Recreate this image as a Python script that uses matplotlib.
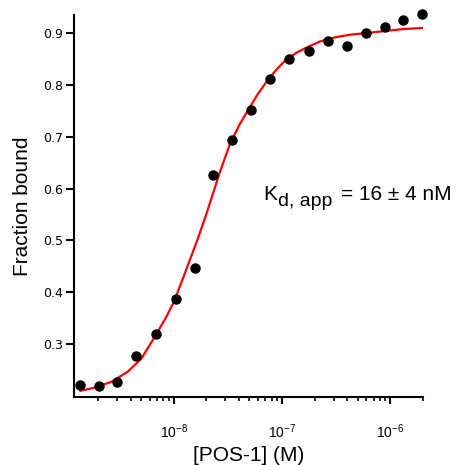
import matplotlib
matplotlib.use("Agg")
import matplotlib.pyplot as plt
from matplotlib.ticker import LogLocator, FixedLocator

# measured points: [POS-1] (M) vs fraction bound
conc = [1.35e-9, 2.03e-9, 3.0e-9, 4.5e-9, 6.8e-9, 1.04e-8, 1.56e-8, 2.31e-8,
        3.47e-8, 5.16e-8, 7.8e-8, 1.17e-7, 1.77e-7, 2.63e-7, 3.94e-7, 5.9e-7,
        8.85e-7, 1.32e-6, 1.97e-6]
frac = [0.221, 0.219, 0.227, 0.277, 0.319, 0.388, 0.447, 0.626, 0.694, 0.752,
        0.811, 0.850, 0.866, 0.885, 0.875, 0.900, 0.911, 0.926, 0.937]

# fitted curve
fit_conc = [1.377e-9, 1.856e-9, 2.650e-9, 3.774e-9, 5.021e-9, 6.81e-9, 8.56e-9,
            1.022e-8, 1.137e-8, 1.311e-8, 1.679e-8, 2.008e-8, 2.667e-8, 3.300e-8,
            4.084e-8, 4.875e-8, 5.995e-8, 7.466e-8, 8.99e-8, 1.105e-7, 1.377e-7,
            1.751e-7, 2.248e-7, 3.095e-7, 4.262e-7, 6.53e-7, 1.327e-6, 1.965e-6]
fit_frac = [0.210, 0.216, 0.227, 0.247, 0.272, 0.317, 0.353,
            0.385, 0.411, 0.445, 0.505, 0.552, 0.632, 0.686,
            0.725, 0.752, 0.783, 0.811, 0.831, 0.850, 0.863,
            0.874, 0.884, 0.892, 0.897, 0.901, 0.908, 0.910]

yticks = [0.3, 0.4, 0.5, 0.6, 0.7, 0.8, 0.9]

plt.rcParams["font.family"] = ["Liberation Sans", "DejaVu Sans"]
plt.rcParams["mathtext.fontset"] = "custom"
plt.rcParams["mathtext.rm"] = "Liberation Sans"
plt.rcParams["mathtext.it"] = "Liberation Sans"

fig = plt.figure(figsize=(4.66, 4.65), dpi=100)
ax = fig.add_axes([74 / 466, 68 / 465, 349 / 466, 382 / 465])

ax.plot(fit_conc, fit_frac, color="#ff0000", lw=1.6, zorder=2,
        solid_joinstyle="round")
ax.plot(conc, frac, "o", color="black", ms=6.5, zorder=3, clip_on=False)

ax.set_xscale("log")
ax.set_xlim(1.2e-9, 2.0e-6)
ax.set_ylim(0.198, 0.935)

ax.xaxis.set_major_locator(FixedLocator([1e-8, 1e-7, 1e-6]))
ax.xaxis.set_minor_locator(LogLocator(base=10, subs=range(2, 10), numticks=20))
ax.set_xticklabels([r"$10^{-8}$", r"$10^{-7}$", r"$10^{-6}$"])
ax.yaxis.set_major_locator(FixedLocator(yticks))
ax.set_yticklabels([f"{v:.1f}" for v in yticks])
ax.yaxis.set_minor_locator(FixedLocator([]))

for s in ["top", "right"]:
    ax.spines[s].set_visible(False)
for s in ["left", "bottom"]:
    ax.spines[s].set_linewidth(1.5)

ax.tick_params(axis="x", which="major", length=5, width=1.5, labelsize=10, pad=13)
ax.tick_params(axis="x", which="minor", length=3, width=1.2)
ax.tick_params(axis="y", which="major", length=6, width=1.5, pad=2)
for lab in ax.get_yticklabels():
    lab.set_fontfamily("DejaVu Sans")
    lab.set_fontsize(9)

ax.set_xlabel("[POS-1] (M)", fontsize=15, labelpad=4)
ax.set_ylabel("Fraction bound", fontsize=15, labelpad=8)

fig.text(263 / 466, 1 - 200 / 465, "K", fontsize=15, va="baseline", ha="left")
fig.text(278 / 466, 1 - 206 / 465, "d, app", fontsize=14, va="baseline", ha="left")
fig.text(341 / 466, 1 - 200 / 465, "= 16 \u00b1 4 nM", fontsize=15, va="baseline", ha="left")

fig.savefig("out.png", dpi=100)
